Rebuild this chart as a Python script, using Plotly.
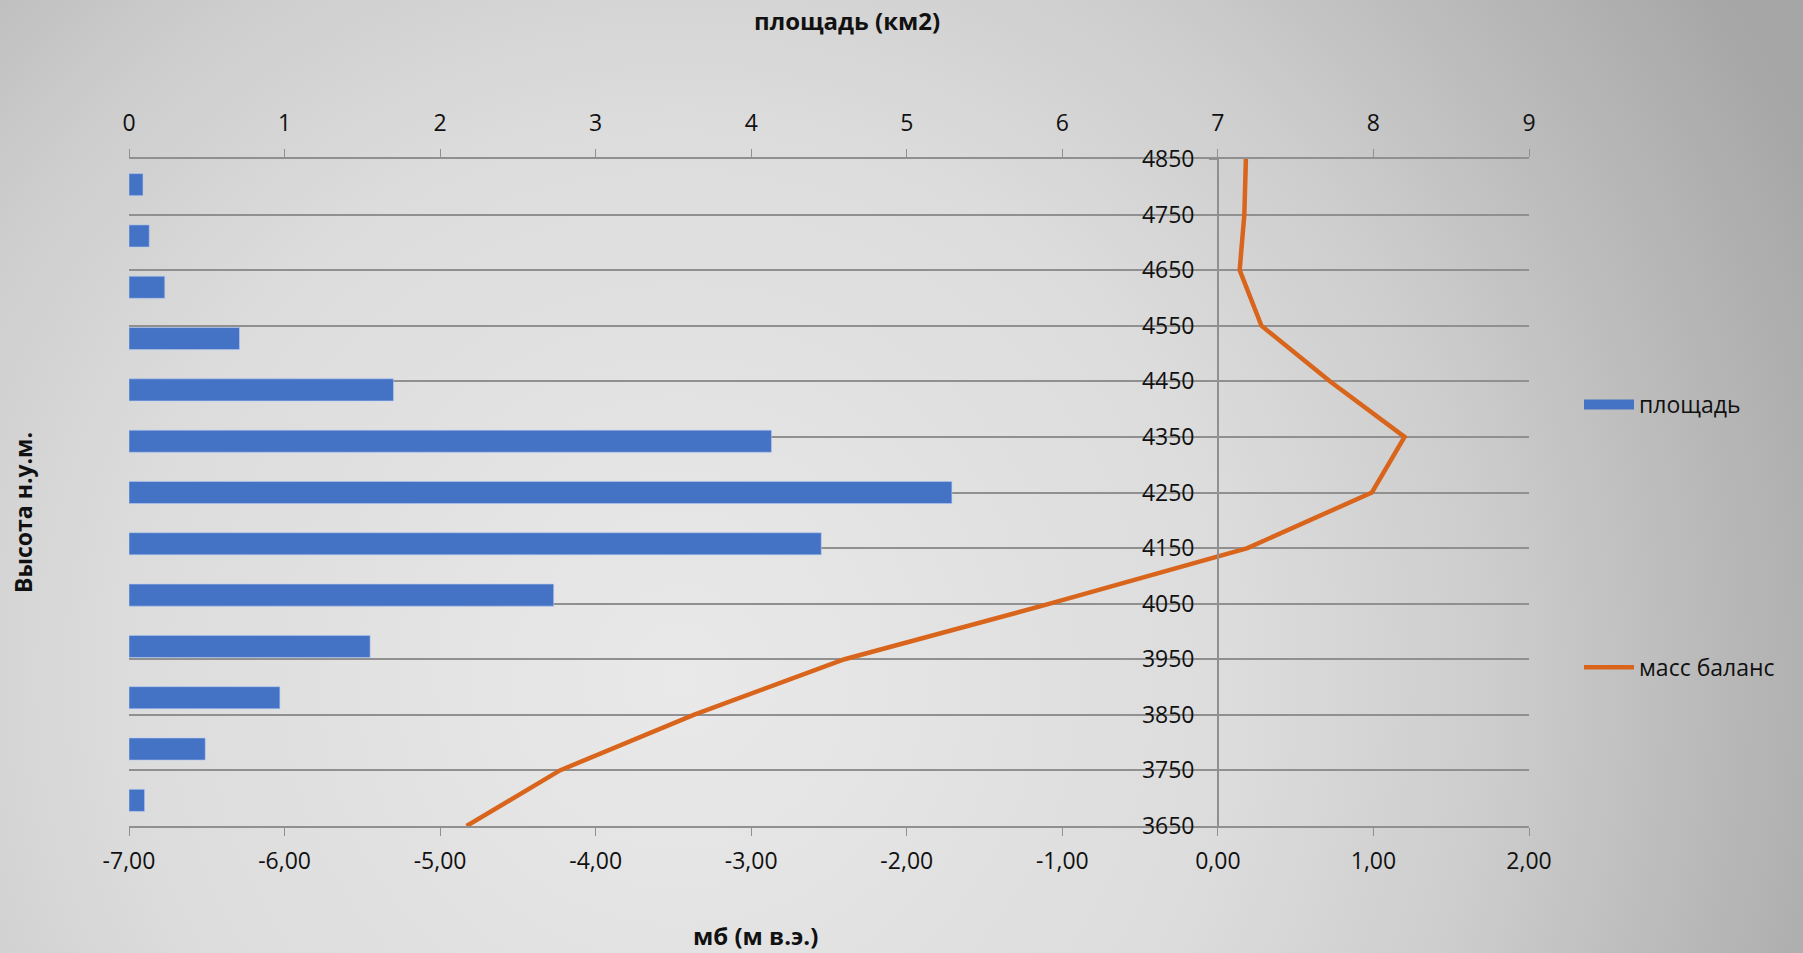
import plotly.graph_objects as go
import base64

# ---------------- data ----------------
altitudes = [3650, 3750, 3850, 3950, 4050, 4150, 4250, 4350, 4450, 4550, 4650, 4750, 4850]
area_km2 = [0.10, 0.49, 0.97, 1.55, 2.73, 4.45, 5.29, 4.13, 1.70, 0.71, 0.23, 0.13, 0.09]
mass_balance = [-4.83, -4.23, -3.37, -2.40, -1.08, 0.19, 0.99, 1.20, 0.72, 0.28, 0.14, 0.17, 0.18]
mb_ticks = [-7, -6, -5, -4, -3, -2, -1, 0, 1, 2]
mb_ticktext = ["-7,00", "-6,00", "-5,00", "-4,00", "-3,00", "-2,00", "-1,00", "0,00", "1,00", "2,00"]
area_name = "площадь"
mb_name = "масс баланс"
title_top = "площадь (км2)"
title_bottom = "мб (м в.э.)"
title_left = "Высота н.у.м."

# ---------------- layout geometry ----------------
W, H = 1803, 953
L, R, T, B = 129, 1803 - 1529, 159, 953 - 826
PW, PH = W - L - R, H - T - B

def px(x):
    return (x - L) / PW

def py(y):
    return (H - B - y) / PH

FONT = "Open Sans"
TXT = "#111111"
GRID = "#909090"
BLUE = "#4472C4"

svg = f'''<svg xmlns="http://www.w3.org/2000/svg" width="{W}" height="{H}">
<defs><radialGradient id="g" gradientUnits="userSpaceOnUse" cx="680" cy="680" r="1250">
<stop offset="0" stop-color="#e9e9e9"/>
<stop offset="0.45" stop-color="#dcdcdc"/>
<stop offset="0.65" stop-color="#cdcdcd"/>
<stop offset="0.8" stop-color="#bcbcbc"/>
<stop offset="1" stop-color="#a6a6a6"/>
</radialGradient></defs>
<rect width="{W}" height="{H}" fill="url(#g)"/></svg>'''
bg_uri = "data:image/svg+xml;base64," + base64.b64encode(svg.encode()).decode()

fig = go.Figure()

fig.add_trace(go.Bar(
    x=area_km2, y=[str(a) for a in altitudes], orientation="h",
    xaxis="x2", yaxis="y2", name=area_name,
    marker=dict(color=BLUE, line=dict(color="rgba(180,200,240,0.6)", width=1)),
    width=0.43, legendgroup="a", showlegend=False,
))
# legend swatch for the bars (wide rectangle, as in the reference legend)
fig.add_trace(go.Scatter(
    x=[None], y=[None], mode="lines", name=area_name, xaxis="x2", yaxis="y2",
    line=dict(color=BLUE, width=16), legendgroup="a", hoverinfo="skip",
))

fig.add_trace(go.Scatter(
    x=mass_balance, y=altitudes, mode="lines", name=mb_name,
    xaxis="x", yaxis="y",
    line=dict(color="#D8651B", width=4.5),
    legendgroup="b",
))

axis_common = dict(
    showgrid=False, zeroline=False, showline=True, linecolor=GRID, linewidth=1.5,
    ticks="outside", ticklen=8, tickcolor=GRID, tickwidth=1.2,
    tickfont=dict(family=FONT, size=23, color=TXT),
)

fig.update_layout(
    width=W, height=H,
    margin=dict(l=L, r=R, t=T, b=B, autoexpand=False),
    paper_bgcolor="rgba(0,0,0,0)", plot_bgcolor="rgba(0,0,0,0)",
    separators=", ",
    showlegend=True,
    legend=dict(
        x=px(1579), y=py(383), xanchor="left", yanchor="top",
        font=dict(family=FONT, size=23, color=TXT),
        bgcolor="rgba(0,0,0,0)", tracegroupgap=230, itemwidth=50,
    ),
    xaxis=dict(axis_common, range=[-7, 2], tickmode="array", tickvals=mb_ticks,
               ticktext=mb_ticktext, side="bottom", anchor="y", ticklabelstandoff=6),
    xaxis2=dict(axis_common, range=[0, 9], dtick=1, tick0=0, side="top",
                overlaying="x", anchor="y", ticklabelstandoff=9),
    yaxis=dict(axis_common, range=[3650, 4850], dtick=100, tick0=3650,
               showgrid=True, gridcolor=GRID, gridwidth=1.5,
               anchor="free", position=7 / 9, side="left", ticklabelstandoff=10),
    yaxis2=dict(type="category", overlaying="y", range=[-0.5, 12.5], visible=False,
                anchor="x2"),
    images=[dict(source=bg_uri, xref="paper", yref="paper",
                 x=-L / PW, y=1 + T / PH, sizex=W / PW, sizey=H / PH,
                 xanchor="left", yanchor="top", sizing="stretch", layer="below")],
    annotations=[
        dict(text=f"<b>{title_top}</b>", x=px(847), y=py(20), xref="paper", yref="paper",
             showarrow=False, font=dict(family=FONT, size=24, color=TXT),
             xanchor="center", yanchor="middle"),
        dict(text=f"<b>{title_bottom}</b>", x=px(755), y=py(935), xref="paper", yref="paper",
             showarrow=False, font=dict(family=FONT, size=24, color=TXT),
             xanchor="center", yanchor="middle"),
        dict(text=f"<b>{title_left}</b>", x=px(23), y=py(512), xref="paper", yref="paper",
             showarrow=False, textangle=-90, font=dict(family=FONT, size=23, color=TXT),
             xanchor="center", yanchor="middle"),
    ],
)

fig.write_html("out.html", config={"displayModeBar": False},
               post_script="document.body.style.margin='0';document.body.style.overflow='hidden';")
